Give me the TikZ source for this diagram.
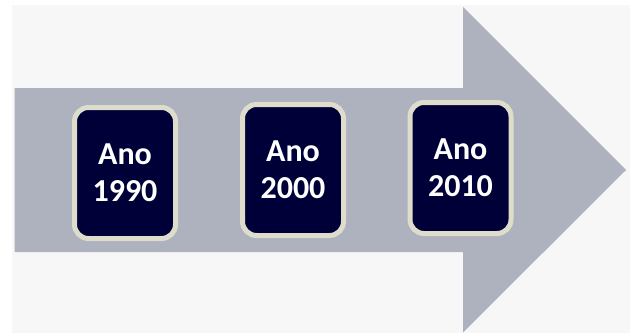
\documentclass[tikz,border=0pt]{standalone}
\usepackage{fontspec}
\setmainfont{Carlito}
\definecolor{fundo}{HTML}{F7F7F7}
\definecolor{seta}{HTML}{AEB2BF}
\definecolor{caixa}{HTML}{000038}
\definecolor{borda}{HTML}{DEDCCB}
\begin{document}
\begin{tikzpicture}[x=1pt,y=1pt,
		ano/.style={draw=borda, line width=5pt, fill=caixa, rounded corners=14pt,
			minimum width=101pt, minimum height=131pt, inner sep=0pt,
			text=white, align=center, font=\fontsize{32}{37}\selectfont\bfseries}]
			\useasboundingbox (0,0) rectangle (630,333);
			\fill [fundo] (12,0) rectangle (630,328);
			% seta
			\fill [seta] (14.5,245) -- (463,245) -- (463,326) -- (626,163) -- (463,0.5) -- (463,81) -- (14.5,81) -- cycle;
			% caixas
			\node [ano] (a1990) at (125,160) {Ano\\1990};
			\node [ano] (a2000) at (293,163) {Ano\\2000};
			\node [ano] (a2010) at (460.5,165) {Ano\\2010};
		\end{tikzpicture}
\end{document}
